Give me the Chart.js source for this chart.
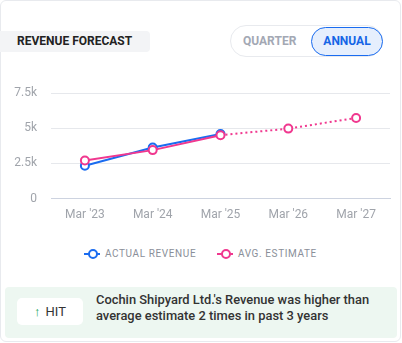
<!DOCTYPE html>
<html>
<head>
<meta charset="utf-8">
<script src="https://cdn.jsdelivr.net/npm/chart.js@4.4.1/dist/chart.umd.min.js"></script>
<style>
  html, body { margin: 0; padding: 0; background: #fff; font-family: Roboto, "Noto Sans", sans-serif; }
  .card { position: absolute; left: 0; top: 0; width: 399px; height: 340px; border: 1px solid #e8eaee; border-radius: 6px; background: #fff; }
  .title { position: absolute; left: 0; top: 31px; width: 150px; height: 21px; background: #f3f4f6; border-radius: 0 4px 4px 0;
           font-size: 12px; font-weight: 700; color: #222; line-height: 21px; padding-left: 17px; box-sizing: border-box; }
  .toggle { position: absolute; left: 230px; top: 25px; width: 153px; height: 32px; border: 1px solid #e8eaee; border-radius: 17px; box-sizing: border-box; }
  .toggle .q { position: absolute; left: 12px; top: 0; line-height: 30px; font-size: 12px; font-weight: 700; color: #a3a8b4; }
  .toggle .a { position: absolute; left: 80px; top: 1px; width: 72px; height: 29px; border: 1.5px solid #1a6cf0; border-radius: 15px; background: #e6effd;
               box-sizing: border-box; text-align: center; line-height: 26px; font-size: 12px; font-weight: 700; color: #1565e6; }
  .chartbox { position: absolute; left: 0; top: 72px; width: 400px; height: 159px; }
  .legend { position: absolute; top: 247px; left: 0; width: 400px; height: 14px; font-size: 10px; color: #8a8f99; letter-spacing: 0.6px; }
  .legend span.item { position: absolute; top: 0; line-height: 14px; }
  .mk { position: absolute; top: 6px; width: 16px; height: 2px; }
  .mk::after { content: ""; position: absolute; left: 4px; top: -4px; width: 6px; height: 6px; border-radius: 50%; background: #fff; border: 2px solid currentColor; }
  .banner { position: absolute; left: 5px; top: 287px; width: 392px; height: 51px; background: #edf7f1; border-radius: 4px; }
  .hit { position: absolute; left: 12px; top: 11px; width: 66px; height: 27px; background: #fff; border-radius: 5px; text-align: center; line-height: 27px;
         font-size: 13px; color: #333; }
  .hit b { color: #17a058; font-weight: 400; margin-right: 5px; }
  .msg { position: absolute; left: 91px; top: 5px; font-size: 12.9px; font-weight: 500; color: #333; line-height: 16px; }
</style>
</head>
<body>
<div class="card"></div>
<div class="title">REVENUE FORECAST</div>
<div class="toggle"><span class="q">QUARTER</span><span class="a">ANNUAL</span></div>
<div class="chartbox"><canvas id="myChart"></canvas></div>
<div class="legend">
  <span class="mk" style="left:84px;background:#1a6cf0;color:#1a6cf0"></span>
  <span class="item" style="left:105px">ACTUAL REVENUE</span>
  <span class="mk" style="left:217px;background:#f0388f;color:#f0388f"></span>
  <span class="item" style="left:238px">AVG. ESTIMATE</span>
</div>
<div class="banner">
  <div class="hit"><b>&#8593;</b>HIT</div>
  <div class="msg">Cochin Shipyard Ltd.'s Revenue was higher than<br>average estimate 2 times in past 3 years</div>
</div>
<script>
const yearLabels = ["Mar '23", "Mar '24", "Mar '25", "Mar '26", "Mar '27"];
const actualRevenue = [2340, 3630, 4600, null, null];
const avgEstimate = [2710, 3450, 4510, 4980, 5740];
const yTicks = [0, 2500, 5000, 7500];

var ctx = document.getElementById('myChart').getContext('2d');

var myChart = new Chart(ctx, {
    type: 'line',
    data: {
        labels: yearLabels,
        datasets: [{
            label: 'ACTUAL REVENUE',
            data: actualRevenue,
            borderColor: '#1a6cf0',
            backgroundColor: '#fff',
            borderWidth: 2,
            pointRadius: 4,
            pointBorderWidth: 2,
            pointBackgroundColor: '#fff',
            order: 1
        }, {
            label: 'AVG. ESTIMATE',
            data: avgEstimate,
            borderColor: '#f0388f',
            backgroundColor: '#fff',
            borderWidth: 2,
            pointRadius: 4,
            pointBorderWidth: 2,
            pointBackgroundColor: '#fff',
            order: 0,
            segment: {
                borderDash: c => c.p0DataIndex >= 2 ? [2, 3] : undefined
            }
        }]
    },
    options: {
        responsive: true,
        maintainAspectRatio: false,
        animation: false,
        layout: { padding: { top: 10, right: 10, bottom: 0, left: 0 } },
        plugins: { legend: { display: false }, tooltip: { enabled: false } },
        scales: {
            x: {
                offset: true,
                grid: { display: false, drawTicks: false },
                border: { display: true, color: '#cdd3e0', width: 1 },
                ticks: { color: '#a0a4ab', font: { family: 'Roboto', size: 12 }, padding: 9 }
            },
            y: {
                min: 0,
                max: 7500,
                afterBuildTicks: s => { s.ticks = yTicks.map(v => ({ value: v })); },
                afterFit: s => { s.width = 51; },
                grid: { color: '#e6e8ec', drawTicks: false },
                border: { display: false },
                ticks: {
                    color: '#a0a4ab',
                    font: { family: 'Roboto', size: 12 },
                    padding: 14,
                    callback: v => v === 0 ? '0' : (v / 1000) + 'k'
                }
            }
        }
    }
});
</script>
</body>
</html>
